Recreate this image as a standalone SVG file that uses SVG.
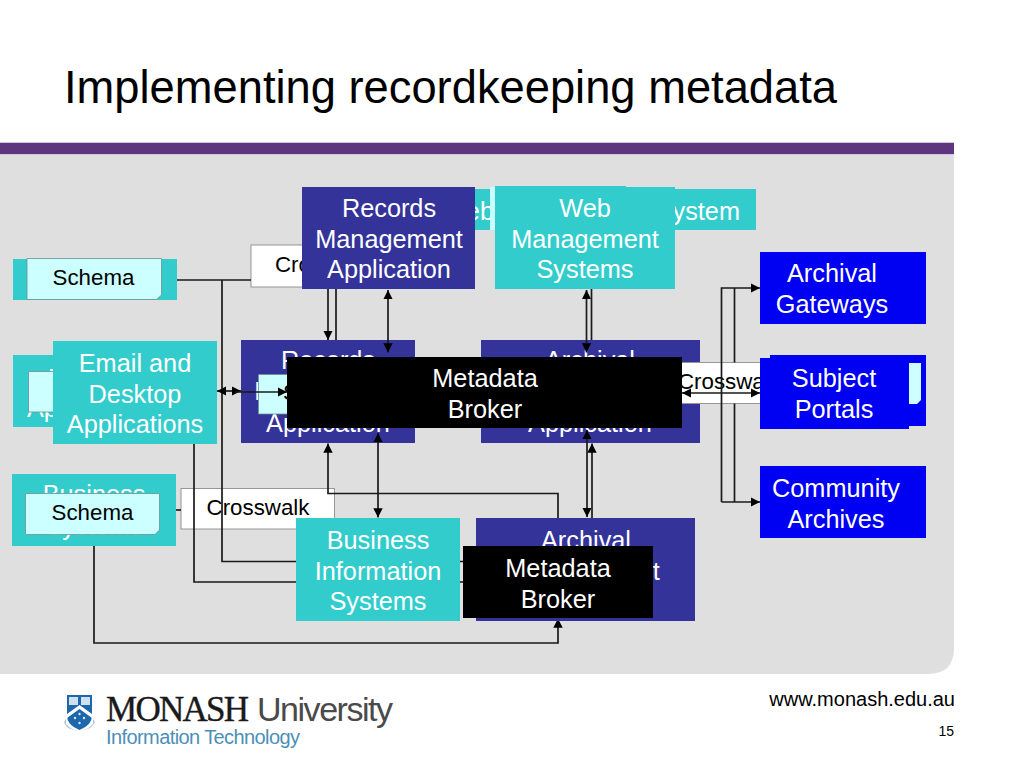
<svg xmlns="http://www.w3.org/2000/svg" width="1024" height="768" viewBox="0 0 1024 768">
<style>
text{font-family:"Liberation Sans",Arial,sans-serif}
.l{font-size:25.3px;fill:#fff;text-anchor:middle}
.d{font-size:22.3px;fill:#000;text-anchor:middle}
.s{text-anchor:start}
.teal{fill:#33cccc}.navy{fill:#333399}.blue{fill:#0000f2}.blk{fill:#000}
.pap{fill:#ccffff;stroke:#6f8f8f;stroke-width:.8}
.cw{fill:#fff;stroke:#969696;stroke-width:1}
.c{fill:none;stroke:#1a1a1a;stroke-width:1.7}
</style>
<defs>
<marker id="a" viewBox="0 0 10 10" refX="10" refY="5" markerWidth="5.500" markerHeight="5.500" orient="auto-start-reverse"><path d="M0 0L10 5L0 10Z" fill="#000"/></marker>
</defs>
<rect width="1024" height="768" fill="#fff"/>
<path id="panel" d="M0 154H954V648Q954 674 928 674H0Z" fill="#dfdfdf"/>
<rect id="band-edge" x="0" y="142" width="954" height="13" fill="#d9c6e0"/>
<rect id="band" x="0" y="143" width="954" height="11" fill="#5f3580"/>
<text id="title" x="64" y="103" font-size="45.300" fill="#000">Implementing recordkeeping metadata</text>

<g id="n-crosswalk-top"><rect class="cw" x="251" y="245" width="80" height="42"/><text class="d s" x="275" y="272">Crosswalk</text></g>
<g id="n-schema-1"><rect class="teal" x="13" y="259" width="164" height="41"/><path class="pap" d="M27 258.500H161.500V295L156.500 299.500H27Z"/><text class="d" x="93.500" y="285">Schema</text></g>
<g id="n-email-back"><rect class="teal" x="13" y="355" width="164" height="72"/><text class="l s" x="48" y="387">Email and</text><text class="l s" x="27" y="417">Applications</text><path class="pap" d="M28.500 371.500H120V412H28.500Z"/></g>
<g id="n-web-back"><rect class="teal" x="470" y="189" width="286" height="41"/><text class="l" x="740" y="220" style="text-anchor:end">Web Management System</text></g>

<g id="n-records-impl"><rect class="navy" x="241" y="340" width="174" height="103"/><text class="l" x="328" y="369">Records</text><text class="l" x="328" y="400">Management</text><text class="l" x="328" y="432">Application</text><path class="pap" d="M258.500 374.500H300V414H258.500Z"/><text class="d s" x="283" y="400">Schema</text></g>
<g id="n-archival-impl"><rect class="navy" x="481" y="340" width="219" height="103"/><text class="l" x="590" y="369">Archival</text><text class="l" x="590" y="400">Management</text><text class="l" x="590" y="432">Application</text></g>
<g id="n-crosswalk-right"><rect class="cw" x="670" y="362.500" width="100" height="41"/><text class="d s" x="678" y="389">Crosswalk</text></g>
<g id="n-crosswalk-low"><rect class="cw" x="181" y="488.500" width="153.500" height="40.500"/><text class="d" x="258" y="515">Crosswalk</text></g>

<g id="connectors">
<path class="c" d="M177 280H251"/>
<path class="c" d="M222 280V561.500H470"/>
<path class="c" d="M194 444V582H470"/>
<path class="c" d="M94 546V643H558V618.500" marker-end="url(#a)"/>
<path class="c" d="M176 510H181"/>
<path class="c" d="M558 518V493.500H328V443.500" marker-end="url(#a)"/>
<path class="c" d="M378 433V517.500" marker-start="url(#a)" marker-end="url(#a)"/>
<path class="c" d="M328 289V340" marker-end="url(#a)"/>
<path class="c" d="M336 289V340"/>
<path class="c" d="M388 290V352.500" marker-start="url(#a)" marker-end="url(#a)"/>
<path class="c" d="M586.500 290V352.500" marker-start="url(#a)" marker-end="url(#a)"/>
<path class="c" d="M591.500 289V340"/>
<path class="c" d="M587 430V517" marker-start="url(#a)" marker-end="url(#a)"/>
<path class="c" d="M592 518V443.500" marker-end="url(#a)"/>
<path class="c" d="M217 391H241" marker-start="url(#a)" marker-end="url(#a)"/>
<path class="c" d="M235 392H287" marker-end="url(#a)"/>
<path class="c" d="M721.500 502V288H760" marker-end="url(#a)"/>
<path class="c" d="M721.500 502H760" marker-end="url(#a)"/>
<path class="c" d="M734.500 362.500V288"/>
<path class="c" d="M734.500 403.500V502"/>
<path class="c" d="M682 393H760" marker-start="url(#a)" marker-end="url(#a)"/>
</g>

<g id="n-email"><rect class="teal" x="53" y="341" width="164" height="103"/><text class="l" x="135" y="372">Email and</text><text class="l" x="135" y="403">Desktop</text><text class="l" x="135" y="433">Applications</text></g>
<g id="n-broker-top"><rect class="blk" x="287" y="357" width="395" height="71"/><text class="l" x="485" y="387">Metadata</text><text class="l" x="485" y="418">Broker</text></g>
<g id="n-records-app"><rect class="navy" x="302" y="187" width="173" height="102"/><text class="l" x="389" y="217">Records</text><text class="l" x="389" y="248">Management</text><text class="l" x="389" y="278">Application</text></g>
<g id="n-web-app"><rect fill="#ccffff" x="490" y="187" width="10" height="43"/><rect class="teal" x="495" y="187" width="180" height="102"/><rect class="teal" x="495" y="186" width="131" height="3"/><text class="l" x="585" y="217">Web</text><text class="l" x="585" y="248">Management</text><text class="l" x="585" y="278">Systems</text></g>
<g id="n-gateways"><rect class="blue" x="760" y="252" width="166" height="72"/><text class="l" x="832" y="282">Archival</text><text class="l" x="832" y="313">Gateways</text></g>
<g id="n-portals"><rect class="blue" x="770" y="355" width="156" height="71"/><path d="M905 363H921V400L917 404H905Z" fill="#ccffff"/><rect class="blue" x="760" y="358" width="149" height="71"/><text class="l" x="834" y="387">Subject</text><text class="l" x="834" y="418">Portals</text></g>
<g id="n-community"><rect class="blue" x="760" y="466" width="166" height="72"/><text class="l" x="836" y="497">Community</text><text class="l" x="836" y="528">Archives</text></g>
<g id="n-business-sys"><rect class="teal" x="12" y="474" width="164" height="72"/><text class="l" x="94" y="503">Business</text><text class="l" x="94" y="535">Systems</text><path class="pap" d="M25.500 493.500H159.500V530L155 534.500H25.500Z"/><text class="d" x="92.500" y="520">Schema</text></g>
<g id="n-business-info"><rect class="teal" x="296" y="518" width="164" height="103"/><text class="l" x="378" y="549">Business</text><text class="l" x="378" y="580">Information</text><text class="l" x="378" y="610">Systems</text></g>
<g id="n-archival-mgmt"><rect class="navy" x="476" y="518" width="219" height="103"/><text class="l" x="586" y="549">Archival</text><text class="l" x="586" y="580">Management</text></g>
<g id="n-broker-low"><rect class="blk" x="463" y="546" width="190" height="72"/><text class="l" x="558" y="577">Metadata</text><text class="l" x="558" y="608">Broker</text></g>

<g id="logo">
<path d="M64 722Q66 728 71 729Q79 733 87 729Q92 728 95 722L93 719V724Q79 738 66 724V719Z" fill="#a9c6de"/>
<path d="M67 695H92V716Q92 725 79.500 730Q67 725 67 716Z" fill="#1d67ad"/>
<rect x="69" y="697" width="9" height="8" fill="#cfe0ee"/><rect x="81" y="697" width="9" height="8" fill="#cfe0ee"/>
<path d="M67 714L79.500 705L92 714V718L79.500 709L67 718Z" fill="#fff"/>
<g fill="#dbe8f3"><circle cx="79.500" cy="714" r="1.200"/><circle cx="75" cy="718" r="1.200"/><circle cx="84" cy="718" r="1.200"/><circle cx="79.500" cy="723" r="1.200"/></g>
<text x="106" y="721" font-size="35" fill="#1a1a1a" stroke="#1a1a1a" stroke-width=".4" style="font-family:'Liberation Serif',serif" textLength="143">MONASH</text>
<text x="257" y="721" font-size="34" fill="#4a4a4a" textLength="136">University</text>
<text x="106" y="744" font-size="20" fill="#4d8fb8" textLength="194">Information Technology</text>
</g>
<text id="url" x="955" y="706" font-size="20" fill="#000" style="text-anchor:end">www.monash.edu.au</text>
<text id="page" x="954" y="736" font-size="14" fill="#000" style="text-anchor:end">15</text>
</svg>
